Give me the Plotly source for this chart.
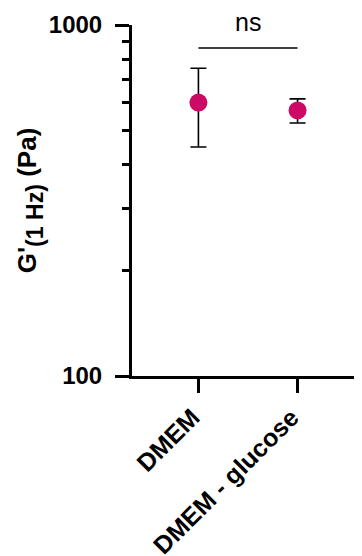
import math
import plotly.graph_objects as go

categories = ["DMEM", "DMEM - glucose"]
means = [601, 571]
sds = [152, 45]
y_major = [100, 1000]
y_minor = [200, 300, 400, 500, 600, 700, 800, 900]
bracket_y = 860
sig_label = "ns"

xs = list(range(len(categories)))
color = "#CC0A66"
font = "Liberation Sans, Arial, sans-serif"

fig = go.Figure()
fig.add_trace(go.Scatter(
    x=xs, y=means, mode="markers",
    marker=dict(size=18, color=color),
    error_y=dict(type="data", array=sds, visible=True, color="black", thickness=1.6, width=8),
    showlegend=False, cliponaxis=False,
))

fig.add_shape(type="line", x0=xs[0], x1=xs[1], y0=bracket_y, y1=bracket_y,
              xref="x", yref="y", line=dict(color="black", width=1.6))
fig.add_annotation(x=(xs[0] + xs[1]) / 2, y=math.log10(bracket_y), xref="x", yref="y",
                   text=sig_label, showarrow=False, yanchor="bottom", yshift=10,
                   font=dict(family=font, size=25, color="black"))

fig.update_layout(
    width=354, height=548,
    margin=dict(l=124, r=0, t=17, b=180),
    plot_bgcolor="white", paper_bgcolor="white",
    font=dict(family=font, color="black"),
)
fig.update_xaxes(
    range=[-0.67, 1.65], tickvals=xs, ticktext=[f"<b>{c}</b>" for c in categories],
    tickangle=-45, showline=True, linecolor="black", linewidth=3,
    ticks="outside", ticklen=14, tickwidth=3, tickcolor="black",
    ticklabelshift=-6, automargin=False,
    showgrid=False, zeroline=False, tickfont=dict(size=25, family=font),
)
fig.update_yaxes(
    type="log", range=[2, 3], tickvals=y_major, ticktext=[f"<b>{v}</b>" for v in y_major],
    showline=True, linecolor="black", linewidth=3,
    ticks="outside", ticklen=14, tickwidth=3, tickcolor="black",
    ticklabelstandoff=8, automargin=False,
    minor=dict(tickvals=y_minor, ticks="outside", ticklen=7, tickwidth=3, tickcolor="black", showgrid=False),
    showgrid=False, zeroline=False, tickfont=dict(size=24, family=font),
    title=dict(text="<b>G'<span style=\"font-size:33px\"><sub>(1 Hz)</sub></span> (Pa)</b>",
               font=dict(size=26, family=font), standoff=5),
)

fig.write_html("out.html")
